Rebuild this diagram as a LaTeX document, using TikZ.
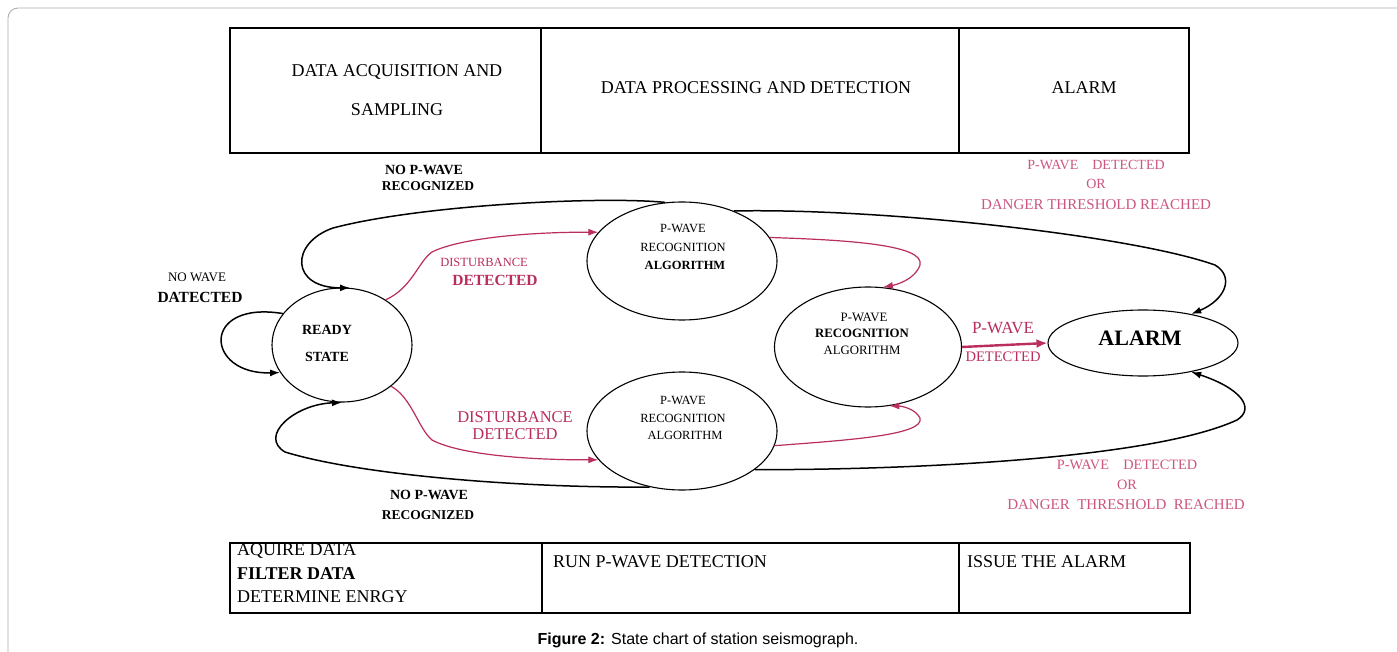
\documentclass[tikz,border=0pt]{standalone}
\usepackage{fontspec}
\setmainfont{Liberation Serif}
\newfontfamily\capfont{Liberation Sans}
\usetikzlibrary{shapes.geometric,arrows.meta}
\definecolor{pinkc}{RGB}{185,45,95}
\definecolor{pinkt}{RGB}{205,85,130}
\definecolor{framec}{RGB}{175,175,175}
\begin{document}
\begin{tikzpicture}[x=1pt,y=-1pt,
  every node/.style={inner sep=0pt},
  fs/.style={font=\fontsize{#1}{#1}\selectfont},
  state/.style={draw, ellipse, line width=1.1pt},
  tbl/.style={line width=1.1pt},
  blk/.style={line width=1.5pt, -{Latex[length=10pt,width=7pt]}},
  pnk/.style={draw=pinkc, line width=1.2pt, -{Latex[length=10pt,width=7pt]}},
  pl/.style={text=pinkc},
  plt/.style={text=pinkt}]
\fill[white] (0,0) rectangle (1397,652);
\useasboundingbox (0,0) rectangle (1397,652);
\draw[framec, line width=0.9pt, rounded corners=10pt] (8,652) -- (8,8) -- (1397,8);

% top table
\draw[tbl] (230,28) rectangle (1189,153);
\draw[tbl] (541,28) -- (541,153);
\draw[tbl] (959,28) -- (959,153);
\node[fs=18] (h1a) at (397,72) {DATA ACQUISITION AND};
\node[fs=18] (h1b) at (397,110) {SAMPLING};
\node[fs=18] (h2) at (756,88) {DATA PROCESSING AND DETECTION};
\node[fs=18] (h3) at (1084,88) {ALARM};

% bottom table
\draw[tbl] (230,543) rectangle (1190,613);
\draw[tbl] (542,543) -- (542,613);
\draw[tbl] (959,543) -- (959,613);
\node[fs=18, anchor=west] (b1) at (237,551) {AQUIRE DATA};
\node[fs=18, anchor=west] (b2) at (237,574) {\bfseries FILTER DATA};
\node[fs=18, anchor=west] (b3) at (237,597) {DETERMINE ENRGY};
\node[fs=18, anchor=west] (b4) at (553,562) {RUN P-WAVE DETECTION};
\node[fs=18, anchor=west] (b5) at (967,562) {ISSUE THE ALARM};

% caption
\node[font=\capfont\fontsize{16}{16}\selectfont] (cap) at (698,640) {\textbf{Figure 2:} State chart of station seismograph.};

% states
\node[state, minimum width=140pt, minimum height=114pt] (ready) at (342,345) {};
\node[state, minimum width=190pt, minimum height=118pt] (upper) at (682,261) {};
\node[state, minimum width=190pt, minimum height=118pt] (lower) at (682,431) {};
\node[state, minimum width=187pt, minimum height=120pt] (mid) at (868,347) {};
\node[state, minimum width=190pt, minimum height=66pt] (alarm) at (1143,343) {};

\node[fs=14] (r1) at (327,330) {\bfseries READY};
\node[fs=14] (r2) at (327,357) {\bfseries STATE};
\node[fs=12.5] (u1) at (683,228) {P-WAVE};
\node[fs=12.5] (u2) at (683,247) {RECOGNITION};
\node[fs=12.5] (u3) at (685,265) {\bfseries ALGORITHM};
\node[fs=12.8] (m1) at (864,317) {P-WAVE};
\node[fs=12.8] (m2) at (862,333) {\bfseries RECOGNITION};
\node[fs=12.8] (m3) at (862,350) {ALGORITHM};
\node[fs=12.5] (l1) at (683,400) {P-WAVE};
\node[fs=12.5] (l2) at (683,418) {RECOGNITION};
\node[fs=12.5] (l3) at (685,435) {ALGORITHM};
\node[fs=22] (a1) at (1140,338) {\bfseries ALARM};

% labels
\node[fs=14] (nop1) at (424,170) {\bfseries NO P-WAVE};
\node[fs=13.5] (rec1) at (428,186) {\bfseries RECOGNIZED};
\node[fs=14] (nop2) at (429,495) {\bfseries NO P-WAVE};
\node[fs=13.5] (rec2) at (428,515) {\bfseries RECOGNIZED};
\node[fs=13] (nw) at (197,277) {NO WAVE};
\node[fs=15.5] (dat) at (200,297) {\bfseries DATECTED};
\node[fs=12.5, pl] (dist1) at (484,262) {DISTURBANCE};
\node[fs=15.5, pl] (det1) at (495,280) {\bfseries DETECTED};
\node[fs=16.5, pl] (dist2) at (515,417) {DISTURBANCE};
\node[fs=16.5, pl] (det2) at (515,434) {DETECTED};
\node[fs=17, pl] (pw) at (1003,328) {P-WAVE};
\node[fs=14.5, pl] (pwd) at (1003,357) {DETECTED};
\node[fs=14, plt] (tr1) at (1096,165) {P-WAVE\quad DETECTED};
\node[fs=14, plt] (tr2) at (1096,184) {OR};
\node[fs=15, plt] (tr3) at (1096,205) {DANGER THRESHOLD REACHED};
\node[fs=14.3, plt] (br1) at (1127,465) {P-WAVE\quad DETECTED};
\node[fs=14.3, plt] (br2) at (1127,485) {OR};
\node[fs=15, plt] (br3) at (1126,505) {DANGER\ \ THRESHOLD\ \ REACHED};

% black connectors
\draw[blk] (upper.106) .. controls (600,196) and (420,205) .. (333,228)
  .. controls (290,243) and (290,288) .. (ready.82);
\draw[blk] (upper.44) .. controls (880,208) and (1130,235) .. (1215,265)
  .. controls (1235,277) and (1225,300) .. (alarm.31);
\draw[blk] (lower.240) .. controls (520,488) and (360,475) .. (285,452)
  .. controls (258,436) and (295,404) .. (ready.270);
\draw[blk] (lower.332) .. controls (900,470) and (1150,460) .. (1237,420)
  .. controls (1256,408) and (1240,388) .. (alarm.329);
\draw[blk] (ready.152) .. controls (200,300) and (205,375) .. (ready.204);

% pink connectors
\draw[pnk] (ready.46) .. controls (412,288) and (418,262) .. (432,252)
  .. controls (460,238) and (530,232) .. (upper.161);
\draw[pnk] (ready.320) .. controls (412,398) and (418,428) .. (432,440)
  .. controls (460,455) and (530,460) .. (lower.199);
\draw[pnk] (upper.15) .. controls (850,240) and (925,245) .. (920,265)
  .. controls (915,280) and (895,285) .. (mid.76);
\draw[pnk] (lower.351) .. controls (850,440) and (925,435) .. (920,418)
  .. controls (915,408) and (900,406) .. (mid.290);
\draw[pnk, line width=2.4pt, -{Latex[length=11pt,width=9pt]}] (mid.0) -- (alarm.180);
\end{tikzpicture}
\end{document}
